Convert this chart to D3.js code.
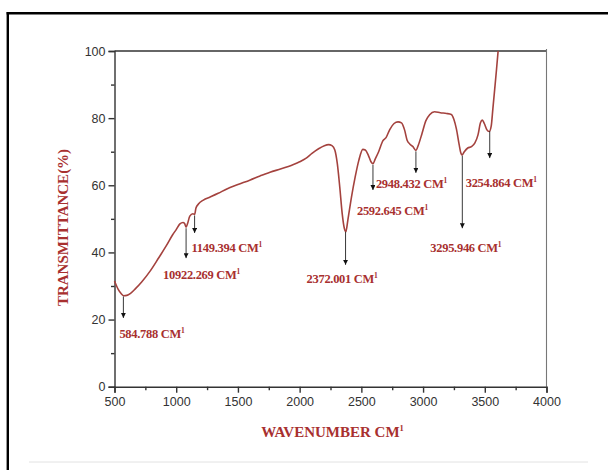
<!DOCTYPE html>
<html>
<head>
<meta charset="utf-8">
<script src="https://cdn.jsdelivr.net/npm/d3@7/dist/d3.min.js"></script>
<style>
  html, body { margin: 0; padding: 0; background: #fff; }
  svg { display: block; }
</style>
</head>
<body>
<svg id="chart" width="608" height="470"></svg>
<script>
// FTIR spectrum: wavenumber (cm-1) and transmittance (%)
const wavenumber = [500, 530, 555, 575, 600, 630, 670, 720, 790, 860, 920, 970, 1000, 1030, 1055, 1068, 1080, 1092, 1110, 1135, 1149, 1160, 1180, 1220, 1275, 1340, 1410, 1500, 1600, 1680, 1760, 1850, 1950, 2000, 2050, 2100, 2150, 2200, 2235, 2262, 2285, 2305, 2325, 2345, 2362, 2375, 2390, 2420, 2450, 2480, 2512, 2532, 2556, 2578, 2594, 2612, 2640, 2675, 2700, 2730, 2765, 2797, 2825, 2850, 2870, 2892, 2918, 2942, 2962, 2992, 3022, 3053, 3093, 3140, 3190, 3229, 3250, 3270, 3292, 3306, 3316, 3334, 3362, 3392, 3420, 3445, 3465, 3480, 3496, 3516, 3536, 3552, 3566, 3580, 3595, 3608];
const transmittance = [31.5, 29.0, 27.7, 27.1, 27.2, 27.8, 29.2, 31.2, 34.5, 38.5, 42.0, 45.2, 46.8, 48.5, 48.9, 48.6, 47.5, 48.6, 50.8, 51.5, 51.3, 53.2, 54.4, 55.6, 56.5, 57.6, 58.9, 60.2, 61.6, 62.8, 63.9, 64.9, 66.2, 67.0, 68.0, 69.5, 70.8, 71.8, 72.1, 71.8, 70.5, 66.5, 59.5, 51.5, 47.2, 46.2, 49.5, 56.5, 62.5, 67.5, 70.7, 70.5, 69.0, 67.0, 66.4, 67.8, 70.0, 73.3, 74.2, 76.6, 78.4, 78.9, 78.6, 76.5, 73.5, 72.3, 71.5, 70.4, 72.0, 75.5, 79.2, 81.0, 81.9, 81.6, 81.4, 81.1, 79.6, 76.8, 72.2, 69.6, 69.0, 70.0, 71.1, 71.5, 72.6, 75.0, 78.6, 79.4, 78.4, 76.6, 76.0, 77.6, 83.0, 88.5, 94.5, 100];

// Annotated bands: arrow position, arrow tip level and the printed label
const peakWavenumber = [572, 1080, 1149, 2372, 2594, 2942, 3318, 3540];
const arrowTip = [20.5, 38.3, 45.8, 36.3, 58.6, 63.7, 47.2, 68.1];
const peakLabel = ["584.788", "10922.269", "1149.394", "2372.001", "2592.645", "2948.432", "3295.946", "3254.864"];

const xTicks = [500, 1000, 1500, 2000, 2500, 3000, 3500, 4000];
const xMinorTicks = [750, 1250, 1750, 2250, 2750, 3250, 3750];
const yTicks = [0, 20, 40, 60, 80, 100];
const yMinorTicks = [10, 30, 50, 70, 90];

const svg = d3.select("#chart");
const plotLeft = 114.5, plotRight = 546.5, plotTop = 51, plotBottom = 386.7;

const x = d3.scaleLinear().domain([500, 4000]).range([plotLeft, plotRight]);
const y = d3.scaleLinear().domain([0, 100]).range([plotBottom, plotTop]);

const red = "#a8302f";
const serif = "'Liberation Serif', 'Times New Roman', serif";
const sans = "'Liberation Sans', Arial, sans-serif";

// page frame
svg.append("line").attr("x1", 7.8).attr("x2", 7.8).attr("y1", 12).attr("y2", 470)
  .attr("stroke", "#000").attr("stroke-width", 2.4);
svg.append("line").attr("x1", 6.6).attr("x2", 608).attr("y1", 13.2).attr("y2", 13.2)
  .attr("stroke", "#000").attr("stroke-width", 2.4);
svg.append("line").attr("x1", 29).attr("x2", 588).attr("y1", 462).attr("y2", 462)
  .attr("stroke", "#e2e2e2").attr("stroke-width", 1);

// plot box: top and right edges
svg.append("line").attr("x1", plotLeft).attr("x2", plotRight).attr("y1", plotTop).attr("y2", plotTop)
  .attr("stroke", "#333").attr("stroke-width", 1.4);
svg.append("line").attr("x1", plotRight).attr("x2", plotRight).attr("y1", plotTop - 2).attr("y2", plotBottom)
  .attr("stroke", "#777").attr("stroke-width", 1.1);

// axes
const xAxis = svg.append("g").attr("transform", `translate(0,${plotBottom})`)
  .call(d3.axisBottom(x).tickValues(xTicks).tickSize(6).tickPadding(4).tickFormat(d3.format("d")));
const xMinor = svg.append("g").attr("transform", `translate(0,${plotBottom})`)
  .call(d3.axisBottom(x).tickValues(xMinorTicks).tickSize(3.5).tickFormat(""));
const yAxis = svg.append("g").attr("transform", `translate(${plotLeft},0)`)
  .call(d3.axisLeft(y).tickValues(yTicks).tickSize(6).tickPadding(3).tickFormat(d3.format("d")));
const yMinor = svg.append("g").attr("transform", `translate(${plotLeft},0)`)
  .call(d3.axisLeft(y).tickValues(yMinorTicks).tickSize(3.5).tickFormat(""));

[xAxis, xMinor, yAxis, yMinor].forEach(g => {
  g.selectAll("path, line").attr("stroke", "#333").attr("stroke-width", 1.4);
  g.selectAll("text").attr("fill", "#333").style("font-family", sans).style("font-size", "12.5px");
});
xMinor.select(".domain").remove();
yMinor.select(".domain").remove();

// spectrum
const pts = wavenumber.map((w, i) => [w, transmittance[i]]);
svg.append("path").datum(pts)
  .attr("fill", "none").attr("stroke", "#a4423e").attr("stroke-width", 1.6)
  .attr("stroke-linejoin", "round")
  .attr("d", d3.line().x(d => x(d[0])).y(d => y(d[1])).curve(d3.curveMonotoneX));

// arrowheads
svg.append("defs").append("marker")
  .attr("id", "tip").attr("viewBox", "0 0 10 10").attr("refX", 10).attr("refY", 5)
  .attr("markerWidth", 5).attr("markerHeight", 5).attr("markerUnits", "userSpaceOnUse")
  .attr("orient", "auto")
  .append("path").attr("d", "M0,0 L10,5 L0,10 z").attr("fill", "#111");

// curve level at a wavenumber, for the arrow start
const level = w => {
  const i = d3.bisector(d => d).left(wavenumber, w);
  if (i <= 0) return transmittance[0];
  const t = (w - wavenumber[i - 1]) / (wavenumber[i] - wavenumber[i - 1]);
  return transmittance[i - 1] + t * (transmittance[i] - transmittance[i - 1]);
};

// label offsets from the arrow foot (dx, dy in px)
const labelOffset = [[-4, 20], [-23, 21], [-3, 19], [-39, 18], [-16, 25], [-40, 15], [-32, 24], [-24, 29]];

peakWavenumber.forEach((w, i) => {
  const ax = x(w);
  svg.append("line")
    .attr("x1", ax).attr("x2", ax)
    .attr("y1", y(level(w)) + 1).attr("y2", y(arrowTip[i]))
    .attr("stroke", "#222").attr("stroke-width", 0.9)
    .attr("marker-end", "url(#tip)");
  const t = svg.append("text")
    .attr("x", ax + labelOffset[i][0]).attr("y", y(arrowTip[i]) + labelOffset[i][1])
    .attr("fill", red).style("font-family", serif).style("font-weight", "bold")
    .style("font-size", "12.5px").style("letter-spacing", "-0.3px");
  t.append("tspan").text(peakLabel[i] + " CM");
  t.append("tspan").attr("dy", -5).style("font-size", "7.5px").text("1");
});

// axis titles
const xt = svg.append("text").attr("x", (plotLeft + plotRight) / 2 + 2).attr("y", 437)
  .attr("text-anchor", "middle").attr("fill", red)
  .style("font-family", serif).style("font-weight", "bold").style("font-size", "15px");
xt.append("tspan").text("WAVENUMBER CM");
xt.append("tspan").attr("dy", -6).style("font-size", "8.5px").text("1");

svg.append("text")
  .attr("transform", `translate(68,227.5) rotate(-90)`)
  .attr("text-anchor", "middle").attr("fill", red)
  .style("font-family", serif).style("font-weight", "bold").style("font-size", "15px")
  .text("TRANSMITTANCE(%)");
</script>
</body>
</html>
